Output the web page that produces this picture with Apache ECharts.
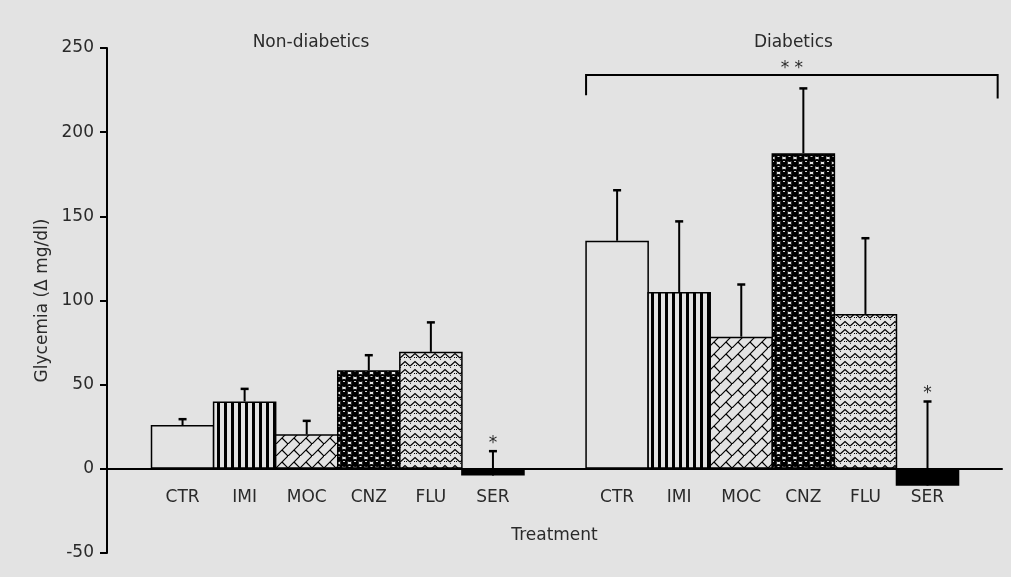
<!DOCTYPE html>
<html><head><meta charset="utf-8">
<script src="https://cdn.jsdelivr.net/npm/echarts@6/dist/echarts.min.js"></script>
<style>html,body{margin:0;padding:0;background:#e3e3e3}#c{width:1011px;height:577px}</style>
</head><body><div id="c"></div>
<script>
// ---------- data ----------
const treatments = ['CTR', 'IMI', 'MOC', 'CNZ', 'FLU', 'SER'];
const groups = ['Non-diabetics', 'Diabetics'];
const nonDiabeticMean  = [26, 40, 20.5, 58.5, 69.5, -4];
const nonDiabeticUpper = [29.5, 47.5, 28.5, 67.5, 87, 10.5];
const diabeticMean  = [135.5, 105, 78.5, 187.5, 92, -10];
const diabeticUpper = [165.5, 147, 109.5, 226, 137, 40];
const nonDiabeticSig = ['', '', '', '', '', '*'];
const diabeticSig    = ['', '', '', '', '', '*'];
const groupSig = ['', '* *'];
const yMin = -50, yMax = 250, yStep = 50;
const xAxisName = 'Treatment';
const yAxisName = 'Glycemia (\u0394 mg/dl)';

// ---------- layout / style ----------
const BG = '#e3e3e3';
const INK = '#2a2a2a';
const FONT = 'DejaVu Sans';
const W = 1011, H = 577;
const GRID = { left: 107, right: 9, top: 48, bottom: 24 };
const groupSlot = 7;               // 6 bars + 1 empty slot per group
const xMin = -0.717, xMax = 13.70;
const titleOffset = [-0.43, 0.34]; // title centre relative to group centre (slot units)
const titleLevel = 253;
const bracketLevel = 234, bracketLeftEnd = 222, bracketRightEnd = 220, bracketOverhang = 0.63;
const gridH = H - GRID.top - GRID.bottom;
const gridW = W - GRID.left - GRID.right;
const xAxisOffset = -((0 - yMin) / (yMax - yMin)) * gridH; // x axis sits on y = 0
const slotPx = gridW / (xMax - xMin);                       // bars fill their slot
const borderW = 1.5;

function tile(w, h, draw) {
  const c = document.createElement('canvas');
  c.width = w; c.height = h;
  const g = c.getContext('2d');
  g.fillStyle = BG; g.fillRect(0, 0, w, h);
  g.fillStyle = '#000'; g.strokeStyle = '#000';
  draw(g, w, h);
  return { image: c, repeat: 'repeat' };
}
function discs(g, pts, r, w, h) {
  pts.forEach(([cx, cy]) => {
    for (const dx of [-w, 0, w]) for (const dy of [-h, 0, h]) {
      g.beginPath(); g.arc(cx + dx, cy + dy, r, 0, Math.PI * 2); g.fill();
    }
  });
}
const patterns = {
  CTR: BG,
  IMI: tile(7, 7, g => g.fillRect(0, 0, 3, 7)),
  MOC: tile(12, 12, g => {
    g.lineWidth = 1.2; g.beginPath();
    g.moveTo(-1, 13); g.lineTo(13, -1);
    g.moveTo(-1, 25); g.lineTo(25, -1);
    g.moveTo(6, 6); g.lineTo(12, 12);
    g.stroke();
  }),
  CNZ: tile(11, 10, (g, w, h) => {
    g.fillRect(0, 0, 11, 1); g.fillRect(0, 0, 1, 10);
    discs(g, [[3, 3], [8.5, 8]], 3.9, w, h);
    g.fillStyle = '#cfcfcf';
    g.fillRect(2, 1, 2, 1); g.fillRect(7.5, 6, 2, 1);
  }),
  FLU: tile(10, 8, g => {
    g.lineWidth = 1.3; g.beginPath();
    g.moveTo(0, 6); g.lineTo(5, 1.5); g.lineTo(10, 6);
    g.moveTo(0, 8); g.lineTo(1, 8);
    g.stroke();
    g.fillRect(4, 5, 1, 1); g.fillRect(6, 5, 1, 1);
  }),
  SER: '#000'
};

// ---------- derived series data ----------
const means = [nonDiabeticMean, diabeticMean];
const uppers = [nonDiabeticUpper, diabeticUpper];
const sigs = [nonDiabeticSig, diabeticSig];
const centers = [], barData = [], errData = [], errSig = [], labelOf = [];
groups.forEach((gName, gi) => {
  treatments.forEach((t, i) => {
    const x = gi * groupSlot + i + 0.5;
    centers.push(x); labelOf.push(t);
    barData.push({ value: [x, means[gi][i]], itemStyle: { color: patterns[t] } });
    errData.push([x, means[gi][i], uppers[gi][i]]);
    errSig.push(sigs[gi][i]);
  });
});
const groupCenter = gi => gi * groupSlot + treatments.length / 2;

const chart = echarts.init(document.getElementById('c'));
chart.setOption({
  backgroundColor: BG,
  animation: false,
  grid: Object.assign({ outerBoundsMode: 'none', containLabel: false }, GRID),
  xAxis: {
    type: 'value', min: xMin, max: xMax,
    offset: xAxisOffset,
    axisLine: { onZero: false, lineStyle: { color: '#000', width: 2 } },
    axisTick: { show: false },
    splitLine: { show: false },
    axisLabel: {
      customValues: centers,
      formatter: v => { const k = centers.findIndex(c => Math.abs(c - v) < 1e-6); return k >= 0 ? labelOf[k] : ''; },
      margin: 20, color: INK, fontSize: 17, fontFamily: FONT
    },
    name: xAxisName, nameLocation: 'middle', nameGap: 58,
    nameTextStyle: { color: INK, fontSize: 17, fontFamily: FONT }
  },
  yAxis: {
    type: 'value', min: yMin, max: yMax, interval: yStep,
    axisLine: { show: true, onZero: false, lineStyle: { color: '#000', width: 2 } },
    axisTick: { show: true, length: 7, lineStyle: { color: '#000', width: 2 } },
    splitLine: { show: false },
    axisLabel: { margin: 13, color: INK, fontSize: 17, fontFamily: FONT },
    name: yAxisName, nameLocation: 'middle', nameGap: 54, nameRotate: 90,
    nameTextStyle: { color: INK, fontSize: 17, fontFamily: FONT }
  },
  series: [
    {
      type: 'bar', data: barData, barWidth: slotPx + borderW, barGap: '-100%',
      itemStyle: { borderColor: '#000', borderWidth: borderW },
      z: 2
    },
    {
      type: 'custom', data: errData, z: 3,
      encode: { x: 0, y: [1, 2] },
      renderItem(params, api) {
        const x = api.value(0), m = api.value(1), u = api.value(2);
        const p0 = api.coord([x, m]), p1 = api.coord([x, u]);
        const ch = [
          { type: 'line', shape: { x1: p0[0], y1: p0[1], x2: p1[0], y2: p1[1] }, style: { stroke: '#000', lineWidth: 2 } },
          { type: 'line', shape: { x1: p1[0] - 4, y1: p1[1], x2: p1[0] + 4, y2: p1[1] }, style: { stroke: '#000', lineWidth: 2.5 } }
        ];
        const s = errSig[params.dataIndex];
        if (s) ch.push({ type: 'text', style: { text: s, x: p1[0], y: p1[1] - 8, align: 'center', verticalAlign: 'middle', fontSize: 17, fontFamily: FONT, fill: INK } });
        return { type: 'group', children: ch };
      }
    },
    {
      type: 'custom', data: groups.map((g, i) => [i]), z: 3, clip: false,
      encode: { x: 0 },
      renderItem(params, api) {
        const gi = params.dataIndex;
        const ch = [];
        const tp = api.coord([groupCenter(gi) + titleOffset[gi], titleLevel]);
        ch.push({ type: 'text', style: { text: groups[gi], x: tp[0], y: tp[1], align: 'center', verticalAlign: 'middle', fontSize: 17, fontFamily: FONT, fill: INK } });
        if (groupSig[gi]) {
          const x0 = gi * groupSlot, x1 = gi * groupSlot + treatments.length + bracketOverhang;
          const a = api.coord([x0, bracketLeftEnd]), b = api.coord([x0, bracketLevel]);
          const c = api.coord([x1, bracketLevel]), d = api.coord([x1, bracketRightEnd]);
          ch.push({ type: 'polyline', shape: { points: [a, b, c, d] }, style: { stroke: '#000', lineWidth: 2, fill: null } });
          ch.push({ type: 'text', style: { text: groupSig[gi], x: (b[0] + c[0]) / 2, y: b[1] - 6, align: 'center', verticalAlign: 'middle', fontSize: 17, fontFamily: FONT, fill: INK } });
        }
        return { type: 'group', children: ch };
      }
    }
  ]
});
</script>
</body></html>
